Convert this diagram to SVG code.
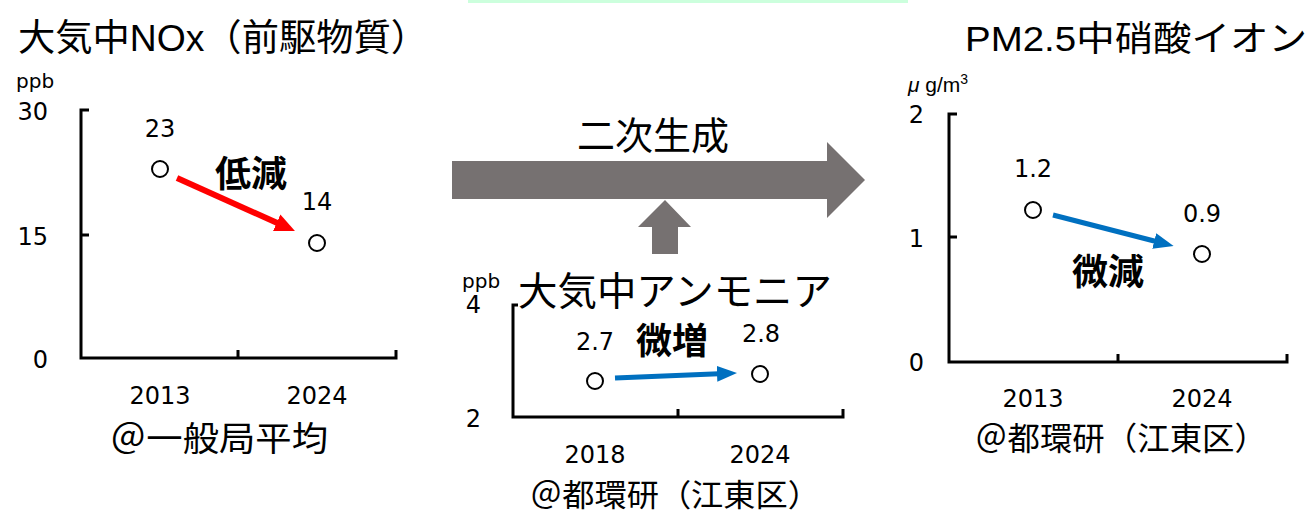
<svg xmlns="http://www.w3.org/2000/svg" width="1311" height="513" viewBox="0 0 1311 513">
<defs>
<style>
.ttl{font-family:"Liberation Sans","Noto Sans CJK JP",sans-serif;fill:#000}
.num{font-family:"DejaVu Sans","Noto Sans CJK JP",sans-serif;font-size:24px;fill:#000}
.unit{font-family:"DejaVu Sans",sans-serif;font-size:20px;fill:#000}
.jp{font-family:"Noto Sans CJK JP",sans-serif;fill:#000}
.bold{font-family:"Noto Sans CJK JP",sans-serif;font-weight:700;font-size:36px;fill:#000}
.axis{fill:none;stroke:#000;stroke-width:3}
.pt{fill:#fff;stroke:#000;stroke-width:2}
.red{stroke:#ff0000;stroke-width:6;fill:none}
.blue{stroke:#0070c0;stroke-width:5;fill:none}
.big{fill:#767171}
</style>
<marker id="hr" viewBox="0 0 20 20" refX="8" refY="10" markerWidth="20" markerHeight="20" markerUnits="userSpaceOnUse" orient="auto"><path d="M0,1 L20,10 L0,19 z" fill="#ff0000"/></marker>
<marker id="hb" viewBox="0 0 20 20" refX="8" refY="10" markerWidth="20" markerHeight="20" markerUnits="userSpaceOnUse" orient="auto"><path d="M0,2 L20,10 L0,18 z" fill="#0070c0"/></marker>
</defs>
<rect x="468" y="0" width="440" height="3" fill="#ccffdd"/>

<g id="nox">
<text class="ttl" x="18" y="51" font-size="37" textLength="410" lengthAdjust="spacingAndGlyphs">大気中NOx（前駆物質）</text>
<text class="unit" x="16" y="88">ppb</text>
<text class="num" x="48" y="120" text-anchor="end">30</text>
<text class="num" x="48" y="245" text-anchor="end">15</text>
<text class="num" x="48" y="368" text-anchor="end">0</text>
<path class="axis" d="M89,110 H81 V358 H396 V350 M238,358 V350 M81,235 H89"/>
<circle class="pt" cx="160" cy="169" r="8"/>
<circle class="pt" cx="317" cy="243" r="8"/>
<text class="num" x="160" y="137" text-anchor="middle">23</text>
<text class="num" x="317" y="210" text-anchor="middle">14</text>
<text class="bold" x="251" y="187" text-anchor="middle">低減</text>
<text class="num" x="160" y="404" text-anchor="middle">2013</text>
<text class="num" x="317" y="404" text-anchor="middle">2024</text>
<text class="jp" x="219" y="451" font-size="34" text-anchor="middle" textLength="218" lengthAdjust="spacingAndGlyphs">＠一般局平均</text>
</g>

<g id="secondary">
<text class="jp" x="653" y="149" font-size="38" text-anchor="middle">二次生成</text>
<polygon class="big" points="452,161 827,161 827,142 865,180 827,218 827,199 452,199"/>
<polygon class="big" points="652,254 652,227 638,227 665,200 691,227 678,227 678,254"/>
</g>

<g id="nh3">
<text class="ttl" x="518" y="305" font-size="39" textLength="314" lengthAdjust="spacingAndGlyphs">大気中アンモニア</text>
<text class="unit" x="462" y="288" font-size="17">ppb</text>
<text class="num" x="481" y="313" text-anchor="end" font-size="22">4</text>
<text class="num" x="481" y="427" text-anchor="end" font-size="22">2</text>
<path class="axis" d="M518,305 H513 V417 H843 V409 M678,417 V409"/>
<circle class="pt" cx="595" cy="381" r="8"/>
<circle class="pt" cx="760" cy="374" r="8"/>
<text class="num" x="595" y="350" text-anchor="middle">2.7</text>
<text class="num" x="761" y="342" text-anchor="middle">2.8</text>
<text class="bold" x="672" y="354" text-anchor="middle">微増</text>
<text class="num" x="595" y="463" text-anchor="middle">2018</text>
<text class="num" x="760" y="463" text-anchor="middle">2024</text>
<text class="jp" x="675" y="506" font-size="31" text-anchor="middle" textLength="290" lengthAdjust="spacingAndGlyphs">＠都環研（江東区）</text>
</g>

<g id="nitrate">
<text class="ttl" x="965" y="51" font-size="35" textLength="342" lengthAdjust="spacingAndGlyphs">PM2.5中硝酸イオン</text>
<text x="908" y="92" font-family="Liberation Sans, sans-serif" font-size="21"><tspan font-style="italic">μ</tspan> g/m<tspan font-size="14" dy="-8">3</tspan></text>
<text class="num" x="924" y="123" text-anchor="end">2</text>
<text class="num" x="924" y="247" text-anchor="end">1</text>
<text class="num" x="924" y="371" text-anchor="end">0</text>
<path class="axis" d="M957,114 H949 V362 H1287 V354 M1118,362 V354 M949,237 H957"/>
<circle class="pt" cx="1033" cy="210" r="8"/>
<circle class="pt" cx="1202" cy="254" r="8"/>
<text class="num" x="1033" y="177" text-anchor="middle">1.2</text>
<text class="num" x="1202" y="222" text-anchor="middle">0.9</text>
<text class="bold" x="1108" y="285" text-anchor="middle">微減</text>
<text class="num" x="1033" y="407" text-anchor="middle">2013</text>
<text class="num" x="1202" y="407" text-anchor="middle">2024</text>
<text class="jp" x="1121" y="450" font-size="32" text-anchor="middle" textLength="292" lengthAdjust="spacingAndGlyphs">＠都環研（江東区）</text>
</g>

<g id="connectors">
<line class="red" x1="177" y1="178" x2="284" y2="226" marker-end="url(#hr)"/>
<line class="blue" x1="615" y1="378" x2="725" y2="373.5" marker-end="url(#hb)"/>
<line class="blue" x1="1053" y1="215" x2="1162" y2="243" marker-end="url(#hb)"/>
</g>
</svg>
